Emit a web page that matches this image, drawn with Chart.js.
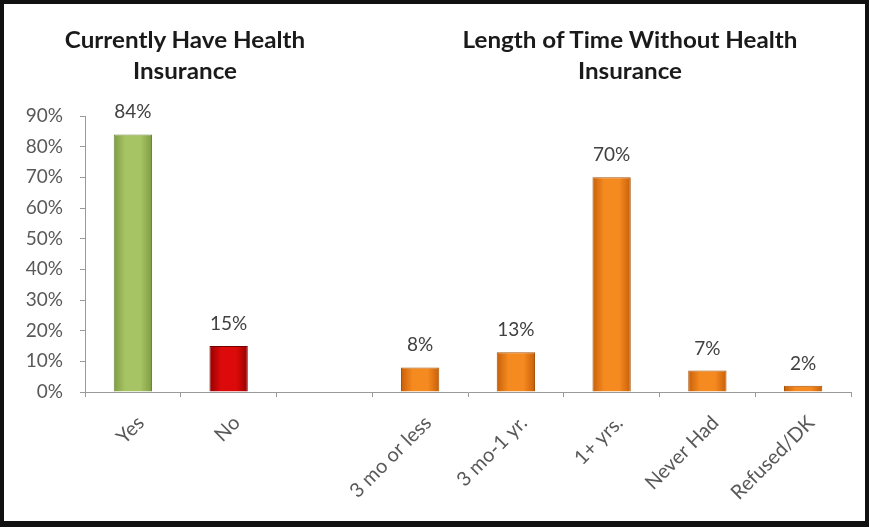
<!DOCTYPE html>
<html>
<head>
<meta charset="utf-8">
<script src="https://cdn.jsdelivr.net/npm/chart.js@4.4.1/dist/chart.umd.min.js"></script>
<style>
  html, body { margin: 0; padding: 0; background: #fff; }
  #wrap { position: relative; width: 869px; height: 527px; overflow: hidden; }
  #wrap canvas { position: absolute; left: 0; top: 0; }
  #frame { position: absolute; left: 0; top: 0; width: 869px; height: 527px; box-sizing: border-box;
           border: 4px solid #111; border-bottom-width: 6px; pointer-events: none; }
  .title { position: absolute; width: 380px; text-align: center; font-family: Lato, sans-serif;
           font-weight: bold; font-size: 22px; line-height: 31px; color: #1a1a1a;
           transform: scaleX(1.1); }
</style>
</head>
<body>
<div id="wrap">
  <canvas id="chart" width="869" height="527"></canvas>
  <div class="title" style="left:-5px; top:24px;">Currently Have Health<br>Insurance</div>
  <div class="title" style="left:440px; top:24px;">Length of Time Without Health<br>Insurance</div>
  <div id="frame"></div>
</div>
<script>
// categories — the empty one is the gap between the two groups
const categories = ['Yes', 'No', '', '3 mo or less', '3 mo-1 yr.', '1+ yrs.', 'Never Had', 'Refused/DK'];
const percentValues = [84, 15, null, 8, 13, 70, 7, 2];
const yTicks = [0, 10, 20, 30, 40, 50, 60, 70, 80, 90];

// colour per bar: [edge, centre, border]
const GREEN = ['#7f9c42', '#a6c463', '#6b8536'];
const RED = ['#980000', '#dc0a0a', '#700000'];
const ORANGE = ['#c85f08', '#f58a20', '#a85208'];
const barPalette = [GREEN, RED, ORANGE, ORANGE, ORANGE, ORANGE, ORANGE, ORANGE];

const BAR_FRACTION = 0.4;

function barFill(ctx) {
  const pal = barPalette[ctx.dataIndex];
  const chart = ctx.chart;
  const xs = chart.scales && chart.scales.x;
  if (!xs || !xs.width) return pal[1];
  const cx = xs.getPixelForValue(ctx.dataIndex);
  const half = xs.width / categories.length * BAR_FRACTION / 2;
  const g = chart.ctx.createLinearGradient(cx - half, 0, cx + half, 0);
  g.addColorStop(0, pal[0]);
  g.addColorStop(0.3, pal[1]);
  g.addColorStop(0.7, pal[1]);
  g.addColorStop(1, pal[0]);
  return g;
}

// value labels above each bar
const valueLabels = {
  id: 'valueLabels',
  afterDatasetsDraw(chart) {
    const c = chart.ctx;
    const meta = chart.getDatasetMeta(0);
    c.save();
    c.font = '19px Lato, sans-serif';
    c.fillStyle = '#404040';
    c.textAlign = 'center';
    c.textBaseline = 'alphabetic';
    meta.data.forEach((bar, i) => {
      const v = percentValues[i];
      if (v == null) return;
      c.fillText(v + '%', bar.x, bar.y - 16);
    });
    c.restore();
  }
};

new Chart(document.getElementById('chart'), {
  type: 'bar',
  data: {
    labels: categories,
    datasets: [{
      data: percentValues,
      backgroundColor: barFill,
      borderColor: ctx => barPalette[ctx.dataIndex][2],
      borderWidth: 1,
      categoryPercentage: 1,
      barPercentage: BAR_FRACTION,
    }],
  },
  options: {
    responsive: false,
    animation: false,
    layout: { padding: { top: 116, right: 18, bottom: 0, left: 0 } },
    plugins: { legend: { display: false }, tooltip: { enabled: false } },
    scales: {
      x: {
        afterFit(scale) { scale.height = 135; },
        grid: { drawOnChartArea: false, tickLength: 5, color: '#9a9a9a', offset: true },
        border: { color: '#9a9a9a' },
        ticks: {
          color: '#595959',
          font: { family: 'Lato', size: 20 },
          minRotation: 45,
          maxRotation: 45,
          autoSkip: false,
          padding: 14,
          labelOffset: 8,
        },
      },
      y: {
        min: 0,
        max: 90,
        afterFit(scale) { scale.width = 85; },
        afterBuildTicks(scale) { scale.ticks = yTicks.map(v => ({ value: v })); },
        grid: { drawOnChartArea: false, tickLength: 5, color: '#9a9a9a' },
        border: { color: '#9a9a9a' },
        ticks: {
          color: '#595959',
          font: { family: 'Lato', size: 19 },
          padding: 17,
          callback: v => v + '%',
        },
      },
    },
  },
  plugins: [valueLabels],
});
</script>
</body>
</html>
